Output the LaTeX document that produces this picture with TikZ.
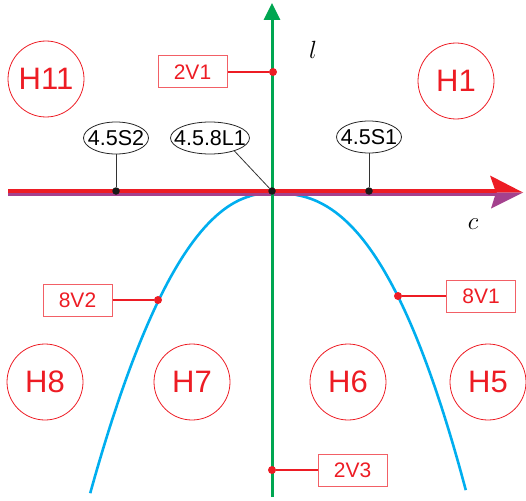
\documentclass[tikz,border=0pt]{standalone}
\usepackage{fontspec}
\setmainfont{Liberation Sans}
\usetikzlibrary{shapes.geometric,arrows.meta}
\definecolor{myred}{HTML}{ED1C24}
\definecolor{mypurple}{HTML}{A4418E}
\definecolor{mygreen}{HTML}{00A651}
\definecolor{mycyan}{HTML}{00AEEF}
\tikzset{
  hcirc/.style={circle, draw=myred, line width=0.8pt, minimum size=76pt, inner sep=0pt, text=myred, font=\fontsize{31}{31}\selectfont},
  vbox/.style={rectangle, draw=myred!70, line width=1pt, minimum width=69pt, minimum height=32pt, inner sep=0pt, text=myred, font=\fontsize{21}{21}\selectfont},
  ell/.style={ellipse, draw=black!85, fill=white, line width=0.8pt, inner sep=0pt},
  elltext/.style={font=\fontsize{21.5}{21.5}\selectfont, inner sep=0pt},
  bdot/.style={circle, fill=black!90, minimum size=7.5pt, inner sep=0pt},
  rdot/.style={circle, fill=myred, minimum size=8pt, inner sep=0pt},
  bconn/.style={draw=black!80, line width=0.8pt},
  rconn/.style={draw=myred, line width=1.1pt},
  curve/.style={draw=mycyan, line width=2.6pt},
  gaxis/.style={draw=mygreen, line width=3pt},
  axlabel/.style={font=\fontsize{25}{25}\selectfont, inner sep=0pt}
}
\begin{document}
\begin{tikzpicture}[x=1pt,y=-1pt]
\useasboundingbox (0,0) rectangle (526,500);
% parabola-like curve
\draw[curve] plot[domain=0.002:1, samples=120] ({272-182*\x},{193+301*(\x)^2.18});
\draw[curve] plot[domain=0.002:1, samples=120] ({272+194*\x},{193+298*(\x)^2.45});
\draw[curve] (271,193) -- (273,193);
% horizontal axis (red / purple)
\coordinate (hl) at (8,192.5);
\coordinate (ht) at (523,192.5);
\fill[myred] (8,189) rectangle (497,192.5);
\fill[mypurple] (8,192.5) rectangle (497,195.5);
\fill[myred] (ht) -- (490,175.5) -- (496,192.5) -- cycle;
\fill[mypurple] (ht) -- (496,192.5) -- (491,208.5) -- cycle;
% vertical axis
\coordinate (vb) at (272,497);
\coordinate (vt) at (272,3);
\draw[gaxis, -{Triangle[length=17pt,width=16pt]}] (vb) -- (vt);
% axis labels
\node[axlabel] (lab-l) at (313,50) {$l$};
\node[axlabel] (lab-c) at (473,224) {$c$};
% region circles
\node[hcirc] (H11) at (46,79) {H11};
\node[hcirc] (H1) at (456,81) {H1};
\node[hcirc] (H8) at (45,382) {H8};
\node[hcirc] (H7) at (192,382) {H7};
\node[hcirc] (H6) at (348,382) {H6};
\node[hcirc] (H5) at (488,382) {H5};
% ellipse labels
\node[ell, minimum width=65pt, minimum height=32pt] (S2) at (116,138) {};
\node[elltext] at (S2) {4.5S2};
\node[ell, minimum width=65pt, minimum height=32pt] (S1) at (369,137) {};
\node[elltext] at (S1) {4.5S1};
\node[ell, minimum width=79pt, minimum height=32pt] (L1) at (210,138) {};
\node[elltext] at (L1) {4.5.8L1};
\node[bdot] (d1) at (116,191) {};
\node[bdot] (d2) at (272,191) {};
\node[bdot] (d3) at (369,191) {};
\draw[bconn] (S2) -- (d1);
\draw[bconn] (S1) -- (d3);
\draw[bconn] (L1.-28) -- (d2);
% red box labels
\node[vbox] (V21) at (192.5,72) {2V1};
\node[rdot] (p21) at (273,72) {};
\draw[rconn] (V21) -- (p21);
\node[vbox] (V82) at (77.5,300) {8V2};
\node[rdot] (p82) at (158,300) {};
\draw[rconn] (V82) -- (p82);
\node[vbox] (V81) at (481,296) {8V1};
\node[rdot] (p81) at (398,296) {};
\draw[rconn] (V81) -- (p81);
\node[vbox] (V23) at (352.5,470) {2V3};
\node[rdot] (p23) at (272,470) {};
\draw[rconn] (V23) -- (p23);
\end{tikzpicture}
\end{document}
